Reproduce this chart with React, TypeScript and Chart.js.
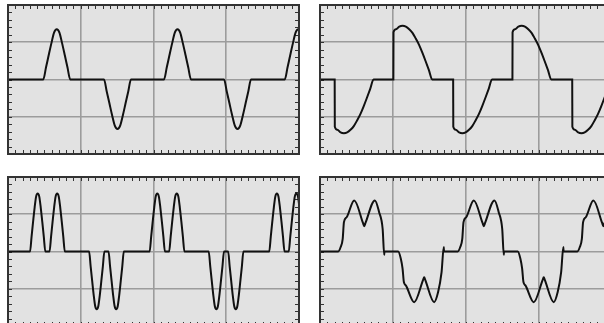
import React, { useEffect, useRef } from "react";
import { Chart, registerables } from "chart.js";

Chart.register(...registerables);

// Axis ranges (time in ms, 10 ms / division; amplitude 100 units / division)
const X_MIN = 0;
const X_MAX = 40;
const X_MAJOR = 10;
const X_MINOR = 1;
const Y_MIN = -200;
const Y_MAX = 200;
const Y_MAJOR = 100;
const Y_MINOR = 20;

// Top-left: single alternating current pulses [time ms, value]
const pulseTrace: [number, number][] = [
  [0, 0],
  [4.85, 0], [5.22, 32], [5.59, 65], [5.96, 97], [6.33, 126], [6.7, 135], [7.07, 126], [7.44, 97], [7.81, 65], [8.18, 32], [8.55, 0],
  [13.2, 0], [13.57, -32], [13.94, -64], [14.31, -96], [14.68, -124], [15.05, -133], [15.42, -124], [15.79, -96], [16.16, -64], [16.53, -32], [16.9, 0],
  [21.45, 0], [21.82, 32], [22.19, 65], [22.56, 97], [22.93, 126], [23.3, 135], [23.67, 126], [24.04, 97], [24.41, 65], [24.78, 32], [25.15, 0],
  [29.7, 0], [30.07, -32], [30.44, -64], [30.81, -96], [31.18, -124], [31.55, -133], [31.92, -124], [32.29, -96], [32.66, -64], [33.03, -32], [33.4, 0],
  [38.05, 0], [38.42, 32], [38.79, 65], [39.16, 97], [39.53, 126], [39.9, 135], [40.27, 126], [40.64, 97],
];

// Top-right: phase-cut sine wave
const phaseCutTrace: [number, number][] = [
  [0, 0],
  [2.01, 0], [2.03, -127], [2.37, -135], [2.82, -142], [3.27, -144], [3.72, -142], [4.18, -135], [4.63, -125], [5.08, -110], [5.53, -93], [5.98, -72], [6.43, -49], [6.88, -25], [7.33, 0],
  [10.05, 0], [10.07, 127], [10.41, 135], [10.86, 142], [11.31, 144], [11.76, 142], [12.22, 135], [12.67, 125], [13.12, 110], [13.57, 93], [14.02, 72], [14.47, 49], [14.92, 25], [15.37, 0],
  [18.24, 0], [18.26, -127], [18.6, -135], [19.05, -142], [19.5, -144], [19.95, -142], [20.41, -135], [20.86, -125], [21.31, -110], [21.76, -93], [22.21, -72], [22.66, -49], [23.11, -25], [23.56, 0],
  [26.36, 0], [26.38, 127], [26.72, 135], [27.17, 142], [27.62, 144], [28.07, 142], [28.53, 135], [28.98, 125], [29.43, 110], [29.88, 93], [30.33, 72], [30.78, 49], [31.23, 25], [31.68, 0],
  [34.55, 0], [34.57, -127], [34.91, -135], [35.36, -142], [35.81, -144], [36.26, -142], [36.72, -135], [37.17, -125], [37.62, -110], [38.07, -93], [38.52, -72], [38.97, -49], [39.42, -25], [39.87, 0],
  [40, 0],
];

// Bottom-left: double pulses
const doublePulseTrace: [number, number][] = [
  [0, 0],
  [3.03, 0], [3.24, 40], [3.45, 80], [3.66, 118], [3.87, 148], [4.08, 156], [4.29, 148], [4.5, 118], [4.71, 80], [4.92, 40], [5.13, 0],
  [5.71, 0], [5.92, 40], [6.13, 80], [6.34, 118], [6.55, 148], [6.76, 156], [6.97, 148], [7.18, 118], [7.39, 80], [7.6, 40], [7.81, 0],
  [11.15, 0], [11.36, -40], [11.57, -79], [11.78, -117], [11.99, -147], [12.2, -155], [12.41, -147], [12.62, -117], [12.83, -79], [13.04, -40], [13.25, 0],
  [13.82, 0], [14.03, -40], [14.24, -79], [14.45, -117], [14.66, -147], [14.87, -155], [15.08, -147], [15.29, -117], [15.5, -79], [15.71, -40], [15.92, 0],
  [19.47, 0], [19.68, 40], [19.89, 80], [20.1, 118], [20.31, 148], [20.52, 156], [20.73, 148], [20.94, 118], [21.15, 80], [21.36, 40], [21.57, 0],
  [22.15, 0], [22.36, 40], [22.57, 80], [22.78, 118], [22.99, 148], [23.2, 156], [23.41, 148], [23.62, 118], [23.83, 80], [24.04, 40], [24.25, 0],
  [27.59, 0], [27.8, -40], [28.01, -79], [28.22, -117], [28.43, -147], [28.64, -155], [28.85, -147], [29.06, -117], [29.27, -79], [29.48, -40], [29.69, 0],
  [30.26, 0], [30.47, -40], [30.68, -79], [30.89, -117], [31.1, -147], [31.31, -155], [31.52, -147], [31.73, -117], [31.94, -79], [32.15, -40], [32.36, 0],
  [35.91, 0], [36.12, 40], [36.33, 80], [36.54, 118], [36.75, 148], [36.96, 156], [37.17, 148], [37.38, 118], [37.59, 80], [37.8, 40], [38.01, 0],
  [38.59, 0], [38.8, 40], [39.01, 80], [39.22, 118], [39.43, 148], [39.64, 156], [39.85, 148], [40.06, 118], [40.27, 80],
];

// Bottom-right: notched twin-peak wave
const notchedTrace: [number, number][] = [
  [0, 0],
  [2.5, 0], [2.83, 12], [3.11, 34], [3.28, 79], [3.65, 92], [4.69, 137], [5.9, 76], [6.06, 68], [6.22, 76], [7.52, 137], [8.11, 105], [8.58, 61], [8.8, -9], [8.82, 0],
  [10.71, 0], [11.08, -20], [11.31, -46], [11.49, -82], [11.76, -91], [12.9, -136], [14.11, -77], [14.27, -69], [14.43, -77], [15.64, -136], [16.18, -109], [16.65, -56], [16.96, 12], [16.98, 0],
  [18.88, 0], [19.21, 12], [19.49, 34], [19.66, 79], [20.03, 92], [21.07, 137], [22.28, 76], [22.44, 68], [22.6, 76], [23.9, 137], [24.49, 105], [24.96, 61], [25.18, -9], [25.2, 0],
  [27.09, 0], [27.46, -20], [27.69, -46], [27.87, -82], [28.14, -91], [29.28, -136], [30.49, -77], [30.65, -69], [30.81, -77], [32.02, -136], [32.56, -109], [33.03, -56], [33.34, 12], [33.36, 0],
  [35.26, 0], [35.59, 12], [35.87, 34], [36.04, 79], [36.41, 92], [37.45, 137], [38.66, 76], [38.82, 68], [38.98, 76], [40.28, 137],
];

// Styles
const BG = "#e2e2e2";
const GRID = "#9c9c9c";
const FRAME = "#333333";
const TICK = "#333333";
const TRACE = "#111111";
const PAD = 4;
const TICK_LEN = 4;

type Panel = { id: string; data: [number, number][]; left: number; top: number; width: number; height: number };

const panels: Panel[] = [
  { id: "tl", data: pulseTrace, left: 8, top: 5, width: 291, height: 149 },
  { id: "tr", data: phaseCutTrace, left: 320, top: 5, width: 292, height: 149 },
  { id: "bl", data: doublePulseTrace, left: 8, top: 177, width: 291, height: 149 },
  { id: "br", data: notchedTrace, left: 320, top: 177, width: 292, height: 149 },
];

const scopePlugin = {
  id: "scopeGraticule",
  beforeDraw(chart: any) {
    const { ctx, chartArea: a } = chart;
    ctx.save();
    ctx.fillStyle = BG;
    ctx.fillRect(a.left, a.top, a.right - a.left, a.bottom - a.top);
    ctx.restore();
  },
  beforeDatasetsDraw(chart: any) {
    const { ctx, chartArea: a, scales } = chart;
    const xs = scales.x;
    const ys = scales.y;
    ctx.save();
    ctx.strokeStyle = TICK;
    ctx.lineWidth = 1;
    ctx.beginPath();
    const nx = Math.round((X_MAX - X_MIN) / X_MINOR);
    for (let i = 0; i <= nx; i++) {
      const px = Math.round(xs.getPixelForValue(X_MIN + i * X_MINOR)) + 0.5;
      ctx.moveTo(px, a.top);
      ctx.lineTo(px, a.top + TICK_LEN);
      ctx.moveTo(px, a.bottom);
      ctx.lineTo(px, a.bottom - TICK_LEN);
    }
    const ny = Math.round((Y_MAX - Y_MIN) / Y_MINOR);
    for (let i = 0; i <= ny; i++) {
      const py = Math.round(ys.getPixelForValue(Y_MIN + i * Y_MINOR)) + 0.5;
      ctx.moveTo(a.left, py);
      ctx.lineTo(a.left + TICK_LEN, py);
      ctx.moveTo(a.right, py);
      ctx.lineTo(a.right - TICK_LEN, py);
    }
    ctx.stroke();
    ctx.restore();
  },
  afterDraw(chart: any) {
    const { ctx, chartArea: a } = chart;
    ctx.save();
    ctx.strokeStyle = FRAME;
    ctx.lineWidth = 2;
    ctx.strokeRect(a.left, a.top, a.right - a.left, a.bottom - a.top);
    ctx.restore();
  },
};

function ScopeChart({ panel }: { panel: Panel }) {
  const ref = useRef<HTMLCanvasElement | null>(null);
  useEffect(() => {
    if (!ref.current) return;
    const chart = new Chart(ref.current, {
      type: "line",
      data: {
        datasets: [
          {
            data: panel.data.map(([x, y]) => ({ x, y })),
            borderColor: TRACE,
            borderWidth: 2,
            pointRadius: 0,
            fill: false,
            cubicInterpolationMode: "monotone",
            clip: 0,
          } as any,
        ],
      },
      options: {
        responsive: false,
        animation: false,
        events: [],
        layout: { padding: PAD },
        plugins: { legend: { display: false }, tooltip: { enabled: false } },
        scales: {
          x: {
            type: "linear",
            min: X_MIN,
            max: X_MAX,
            ticks: { display: false, stepSize: X_MAJOR },
            grid: { color: GRID, lineWidth: 1.6, drawTicks: false },
            border: { display: false },
          },
          y: {
            type: "linear",
            min: Y_MIN,
            max: Y_MAX,
            ticks: { display: false, stepSize: Y_MAJOR },
            grid: { color: GRID, lineWidth: 1.6, drawTicks: false },
            border: { display: false },
          },
        },
      } as any,
      plugins: [scopePlugin],
    });
    return () => chart.destroy();
  }, [panel]);
  const w = panel.width + 2 * PAD;
  const h = panel.height + 2 * PAD;
  return (
    <canvas
      ref={ref}
      width={w}
      height={h}
      style={{ position: "absolute", left: panel.left - PAD, top: panel.top - PAD, width: w, height: h }}
    />
  );
}

export default function App() {
  return (
    <div style={{ position: "fixed", left: 0, top: 0, width: 604, height: 323, overflow: "hidden", background: "#ffffff" }}>
      {panels.map((p) => (
        <ScopeChart key={p.id} panel={p} />
      ))}
    </div>
  );
}
